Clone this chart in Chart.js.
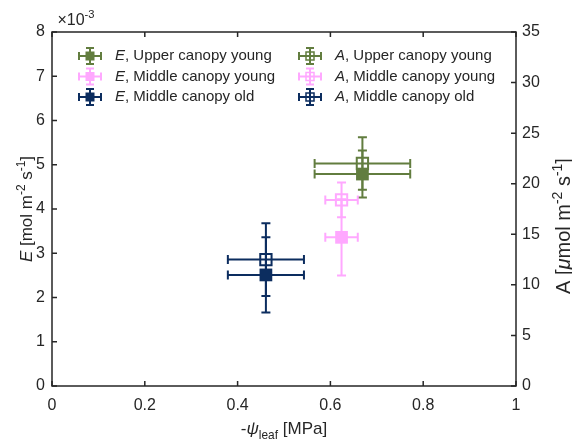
<!DOCTYPE html>
<html>
<head>
<meta charset="utf-8">
<script src="https://cdn.jsdelivr.net/npm/chart.js@4/dist/chart.umd.min.js"></script>
<style>
  html, body { margin: 0; padding: 0; background: #fff; }
  #chart { display: block; }
</style>
</head>
<body>
<canvas id="chart" width="572" height="445"></canvas>
<script>
// Data
const groups = ['Upper canopy young', 'Middle canopy young', 'Middle canopy old'];
const groupColors = ['#627d3f', '#ffa8ff', '#0c2d5f'];
const psiLeaf = [0.669, 0.624, 0.461];      // -psi_leaf [MPa]
const psiLeafErr = [0.103, 0.035, 0.082];
const eValues = [4.79, 3.36, 2.51];         // E, x10^-3 mol m-2 s-1
const eErr = [0.53, 0.86, 0.85];
const aValues = [22.0, 18.4, 12.5];         // A, umol m-2 s-1
const aErr = [2.6, 1.72, 3.59];
const xTicks = [0, 0.2, 0.4, 0.6, 0.8, 1];
const xTickLabels = ['0', '0.2', '0.4', '0.6', '0.8', '1'];
const eTicks = [0, 1, 2, 3, 4, 5, 6, 7, 8];
const aTicks = [0, 5, 10, 15, 20, 25, 30, 35];

const FONT = "'Liberation Sans', Arial, sans-serif";
const INK = '#262626';

Chart.defaults.font.family = FONT;
Chart.defaults.color = INK;

// Build datasets: filled squares for E, open squares for A
const datasets = [];
groups.forEach((g, i) => {
  datasets.push({
    label: 'E, ' + g,
    kind: 'E', group: i,
    yAxisID: 'yE',
    data: [{ x: psiLeaf[i], y: eValues[i] }],
    pointStyle: 'rect',
    pointRadius: 9,
    backgroundColor: groupColors[i],
    borderColor: groupColors[i],
    borderWidth: 0
  });
});
groups.forEach((g, i) => {
  datasets.push({
    label: 'A, ' + g,
    kind: 'A', group: i,
    yAxisID: 'yA',
    data: [{ x: psiLeaf[i], y: aValues[i] }],
    pointStyle: 'rect',
    pointRadius: 8,
    backgroundColor: 'rgba(0,0,0,0)',
    borderColor: groupColors[i],
    borderWidth: 2
  });
});

// Rich text helpers (italic letters, super/subscripts)
function partFont(p, size) {
  const s = (p.sup || p.sub) ? size * 0.7 : size;
  return (p.it ? 'italic ' : '') + s + 'px ' + FONT;
}
function richWidth(ctx, parts, size) {
  let w = 0;
  parts.forEach(p => { ctx.font = partFont(p, size); w += ctx.measureText(p.t).width; });
  return w;
}
function drawRich(ctx, parts, x, y, size) {
  let cx = x - richWidth(ctx, parts, size) / 2;
  ctx.textAlign = 'left';
  ctx.textBaseline = 'alphabetic';
  parts.forEach(p => {
    ctx.font = partFont(p, size);
    let dy = 0;
    if (p.sup) dy = -size * 0.42;
    if (p.sub) dy = size * 0.3;
    ctx.fillText(p.t, cx, y + dy);
    cx += ctx.measureText(p.t).width;
  });
}

// Error bars behind the squares
const errorBars = {
  id: 'errorBars',
  beforeDatasetsDraw(chart) {
    const ctx = chart.ctx;
    const xs = chart.scales.x;
    ctx.save();
    ctx.lineWidth = 2;
    chart.data.datasets.forEach(ds => {
      const i = ds.group;
      const ys = chart.scales[ds.yAxisID];
      const val = ds.kind === 'E' ? eValues[i] : aValues[i];
      const err = ds.kind === 'E' ? eErr[i] : aErr[i];
      const px = xs.getPixelForValue(psiLeaf[i]);
      const py = ys.getPixelForValue(val);
      const x0 = xs.getPixelForValue(psiLeaf[i] - psiLeafErr[i]);
      const x1 = xs.getPixelForValue(psiLeaf[i] + psiLeafErr[i]);
      const y0 = ys.getPixelForValue(val - err);
      const y1 = ys.getPixelForValue(val + err);
      ctx.strokeStyle = groupColors[i];
      ctx.beginPath();
      ctx.moveTo(x0, py); ctx.lineTo(x1, py);
      ctx.moveTo(x0, py - 4.5); ctx.lineTo(x0, py + 4.5);
      ctx.moveTo(x1, py - 4.5); ctx.lineTo(x1, py + 4.5);
      ctx.moveTo(px, y0); ctx.lineTo(px, y1);
      ctx.moveTo(px - 4.5, y0); ctx.lineTo(px + 4.5, y0);
      ctx.moveTo(px - 4.5, y1); ctx.lineTo(px + 4.5, y1);
      ctx.stroke();
    });
    ctx.restore();
  }
};

// Box, inward ticks, titles and legend
const decorations = {
  id: 'decorations',
  afterDraw(chart) {
    const ctx = chart.ctx;
    const a = chart.chartArea;
    const xs = chart.scales.x, yE = chart.scales.yE, yA = chart.scales.yA;
    const tl = 5;
    ctx.save();
    ctx.strokeStyle = INK;
    ctx.lineWidth = 1.5;
    ctx.strokeRect(a.left, a.top, a.right - a.left, a.bottom - a.top);
    ctx.beginPath();
    xTicks.forEach(v => {
      const x = xs.getPixelForValue(v);
      ctx.moveTo(x, a.bottom); ctx.lineTo(x, a.bottom - tl);
      ctx.moveTo(x, a.top); ctx.lineTo(x, a.top + tl);
    });
    eTicks.forEach(v => {
      const y = yE.getPixelForValue(v);
      ctx.moveTo(a.left, y); ctx.lineTo(a.left + tl, y);
    });
    aTicks.forEach(v => {
      const y = yA.getPixelForValue(v);
      ctx.moveTo(a.right, y); ctx.lineTo(a.right - tl, y);
    });
    ctx.stroke();

    ctx.fillStyle = INK;
    // exponent label
    drawRich(ctx, [{ t: '\u00d710' }, { t: '-3', sup: true }], 76, 25, 16);

    // x title
    drawRich(ctx, [{ t: '-' }, { t: '\u03c8', it: true }, { t: 'leaf', sub: true }, { t: ' [MPa]' }], 284, 434, 17);

    // left title
    ctx.save();
    ctx.translate(32, 209);
    ctx.rotate(-Math.PI / 2);
    drawRich(ctx, [{ t: 'E', it: true }, { t: ' [mol m' }, { t: '-2', sup: true }, { t: ' s' }, { t: '-1', sup: true }, { t: ']' }], 0, 0, 17);
    ctx.restore();

    // right title
    ctx.save();
    ctx.translate(570, 226);
    ctx.rotate(-Math.PI / 2);
    drawRich(ctx, [{ t: 'A [' }, { t: '\u03bc', it: true }, { t: 'mol m' }, { t: '-2', sup: true }, { t: ' s' }, { t: '-1', sup: true }, { t: ']' }], 0, 0, 20);
    ctx.restore();

    // legend
    const cols = [90, 310];
    const rows = [56, 76.5, 97];
    chart.data.datasets.forEach(ds => {
      const col = ds.kind === 'E' ? 0 : 1;
      const i = ds.group;
      const cx = cols[col], cy = rows[i];
      ctx.strokeStyle = groupColors[i];
      ctx.lineWidth = 2;
      ctx.beginPath();
      ctx.moveTo(cx - 11, cy); ctx.lineTo(cx + 11, cy);
      ctx.moveTo(cx - 11, cy - 4); ctx.lineTo(cx - 11, cy + 4);
      ctx.moveTo(cx + 11, cy - 4); ctx.lineTo(cx + 11, cy + 4);
      ctx.moveTo(cx, cy - 8); ctx.lineTo(cx, cy + 8);
      ctx.moveTo(cx - 4, cy - 8); ctx.lineTo(cx + 4, cy - 8);
      ctx.moveTo(cx - 4, cy + 8); ctx.lineTo(cx + 4, cy + 8);
      ctx.stroke();
      if (ds.kind === 'E') {
        ctx.fillStyle = groupColors[i];
        ctx.fillRect(cx - 4.5, cy - 4.5, 9, 9);
      } else {
        ctx.lineWidth = 1.5;
        ctx.strokeRect(cx - 4, cy - 4, 8, 8);
      }
      ctx.fillStyle = INK;
      ctx.font = 'italic 15px ' + FONT;
      ctx.textAlign = 'left';
      ctx.textBaseline = 'middle';
      const tx = cx + 25;
      ctx.fillText(ds.kind, tx, cy);
      const w = ctx.measureText(ds.kind).width;
      ctx.font = '15px ' + FONT;
      ctx.fillText(', ' + groups[i], tx + w, cy);
    });
    ctx.restore();
  }
};

const tickFont = { size: 16, family: FONT };

new Chart(document.getElementById('chart'), {
  type: 'scatter',
  data: { datasets },
  options: {
    responsive: false,
    animation: false,
    layout: { padding: { top: 32, left: 0, right: 0, bottom: 0 } },
    plugins: { legend: { display: false }, tooltip: { enabled: false } },
    scales: {
      x: {
        type: 'linear', min: 0, max: 1,
        afterBuildTicks: s => { s.ticks = xTicks.map(v => ({ value: v })); },
        afterFit: s => { s.height = 59; },
        grid: { display: false, drawTicks: false },
        border: { display: false },
        ticks: {
          font: tickFont, color: INK, padding: 10, maxRotation: 0,
          callback: (v, idx) => xTickLabels[idx]
        }
      },
      yE: {
        type: 'linear', position: 'left', min: 0, max: 8,
        afterBuildTicks: s => { s.ticks = eTicks.map(v => ({ value: v })); },
        afterFit: s => { s.width = 52; },
        grid: { display: false, drawTicks: false },
        border: { display: false },
        ticks: { font: tickFont, color: INK, padding: 7 }
      },
      yA: {
        type: 'linear', position: 'right', min: 0, max: 35,
        afterBuildTicks: s => { s.ticks = aTicks.map(v => ({ value: v })); },
        afterFit: s => { s.width = 56; },
        grid: { display: false, drawTicks: false },
        border: { display: false },
        ticks: { font: tickFont, color: INK, padding: 6 }
      }
    }
  },
  plugins: [errorBars, decorations]
});
</script>
</body>
</html>
